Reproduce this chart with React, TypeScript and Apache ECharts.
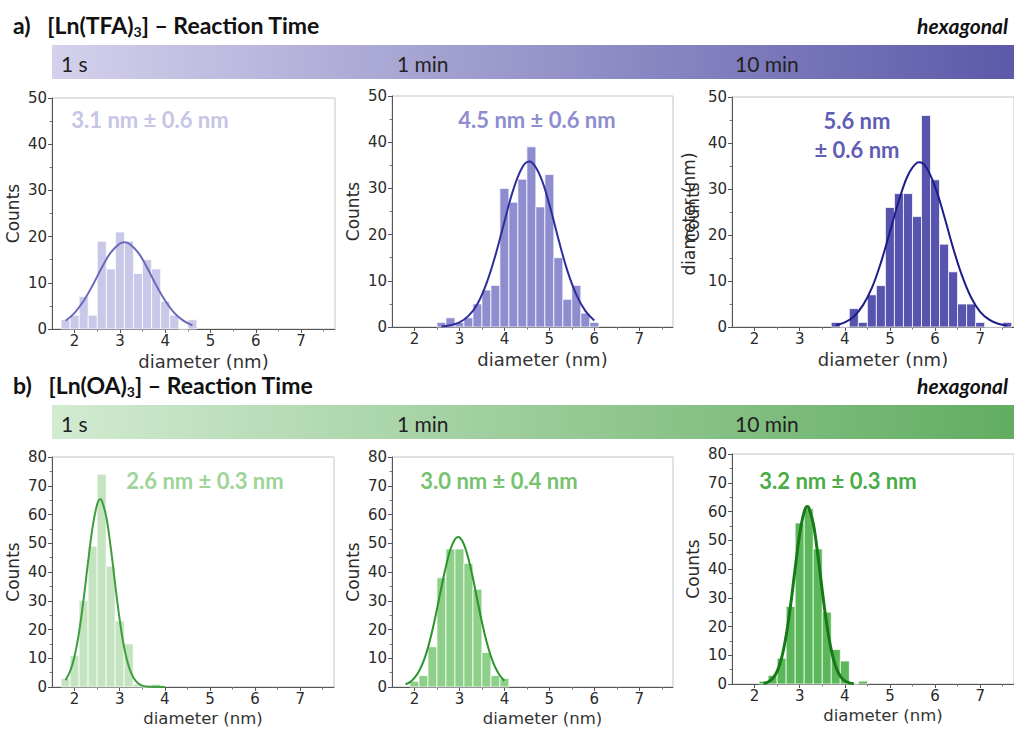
import React, { useEffect, useRef } from "react";
import * as echarts from "echarts";

// ---------- data ----------
const xTicks = [2, 3, 4, 5, 6, 7];
const xMinorTicks = [2.5, 3.5, 4.5, 5.5, 6.5, 7.5];
const binWidth = 0.2;

// a) [Ln(TFA)3]
const tfa1sCenters = [1.8, 2.0, 2.2, 2.4, 2.6, 2.8, 3.0, 3.2, 3.4, 3.6, 3.8, 4.0, 4.2, 4.4, 4.6];
const tfa1sCounts = [2, 3, 7, 3, 19, 13, 21, 19, 12, 15, 13, 6, 3, 0, 2];
const tfa1sFitX = [1.8, 2.0, 2.2, 2.4, 2.6, 2.8, 3.0, 3.1, 3.2, 3.4, 3.6, 3.8, 4.0, 4.2, 4.4, 4.6];
const tfa1sFitY = [1.8, 3.5, 6.1, 9.5, 13.3, 16.6, 18.5, 18.8, 18.5, 16.6, 13.3, 9.5, 6.1, 3.5, 1.8, 0.8];

const tfa1mCenters = [2.6, 2.8, 3.0, 3.2, 3.4, 3.6, 3.8, 4.0, 4.2, 4.4, 4.6, 4.8, 5.0, 5.2, 5.4, 5.6, 5.8, 6.0];
const tfa1mCounts = [1, 2, 1, 2, 5, 8, 9, 30, 27, 32, 39, 26, 33, 15, 6, 9, 3, 1];
const tfa1mFitX = [2.6, 2.8, 3.0, 3.2, 3.4, 3.6, 3.8, 4.0, 4.2, 4.4, 4.55, 4.6, 4.8, 5.0, 5.2, 5.4, 5.6, 5.8, 6.0];
const tfa1mFitY = [0.1, 0.4, 1.0, 2.4, 5.0, 9.4, 15.5, 22.8, 29.8, 34.6, 35.8, 35.7, 32.6, 26.5, 19.1, 12.2, 7.0, 3.5, 1.4];

const tfa10mCenters = [3.8, 4.0, 4.2, 4.4, 4.6, 4.8, 5.0, 5.2, 5.4, 5.6, 5.8, 6.0, 6.2, 6.4, 6.6, 6.8, 7.0, 7.2, 7.4, 7.6];
const tfa10mCounts = [1, 0, 4, 1, 7, 9, 26, 29, 29, 24, 46, 32, 18, 12, 5, 5, 1, 0, 0, 1];
const tfa10mFitX = [3.8, 4.0, 4.2, 4.4, 4.6, 4.8, 5.0, 5.2, 5.4, 5.6, 5.65, 5.8, 6.0, 6.2, 6.4, 6.6, 6.8, 7.0, 7.2, 7.4, 7.6];
const tfa10mFitY = [0.4, 1.0, 2.3, 4.7, 8.5, 14.0, 20.7, 27.5, 33.0, 35.7, 35.8, 34.8, 30.5, 24.2, 17.2, 11.1, 6.4, 3.3, 1.6, 0.7, 0.3];

// b) [Ln(OA)3]
const oa1sCenters = [1.8, 2.0, 2.2, 2.4, 2.6, 2.8, 3.0, 3.2, 3.4, 3.6, 3.8];
const oa1sCounts = [3, 11, 30, 49, 74, 42, 23, 15, 1, 0, 1];
const oa1sFitX = [1.8, 1.9, 2.0, 2.1, 2.2, 2.3, 2.4, 2.5, 2.57, 2.6, 2.7, 2.8, 2.9, 3.0, 3.1, 3.2, 3.3, 3.4, 3.5, 3.6, 3.8, 4.0];
const oa1sFitY = [2.4, 5.4, 10.7, 19.1, 30.5, 43.6, 55.6, 63.5, 65.3, 65.0, 59.4, 48.7, 35.7, 23.4, 13.7, 7.2, 3.4, 1.4, 0.5, 0.2, 0.05, 0];

const oa1mCenters = [2.0, 2.2, 2.4, 2.6, 2.8, 3.0, 3.2, 3.4, 3.6, 3.8, 4.0];
const oa1mCounts = [2, 4, 14, 38, 48, 48, 43, 34, 12, 4, 3];
const oa1mFitX = [1.8, 1.9, 2.0, 2.1, 2.2, 2.3, 2.4, 2.5, 2.6, 2.7, 2.8, 2.9, 2.97, 3.0, 3.1, 3.2, 3.3, 3.4, 3.5, 3.6, 3.7, 3.8, 3.9, 4.0];
const oa1mFitY = [0.9, 1.7, 3.2, 5.5, 8.9, 13.7, 19.8, 27.1, 34.7, 42.0, 47.9, 51.4, 52.2, 52.1, 49.6, 44.6, 37.8, 30.1, 22.6, 16.0, 10.7, 6.7, 4.0, 2.2];

const oa10mCenters = [2.2, 2.4, 2.6, 2.8, 3.0, 3.2, 3.4, 3.6, 3.8, 4.0, 4.2, 4.4];
const oa10mCounts = [1, 3, 9, 27, 56, 61, 47, 25, 12, 8, 0, 1];
const oa10mFitX = [2.2, 2.3, 2.4, 2.5, 2.6, 2.7, 2.8, 2.9, 3.0, 3.1, 3.17, 3.2, 3.3, 3.4, 3.5, 3.6, 3.7, 3.8, 3.9, 4.0, 4.1, 4.2];
const oa10mFitY = [0.2, 0.7, 1.9, 4.4, 9.1, 16.8, 27.6, 40.2, 52.1, 59.9, 61.7, 61.4, 55.9, 45.2, 32.5, 20.8, 11.8, 6.0, 2.7, 1.1, 0.4, 0.1];

const timeLabels = ["1 s", "1 min", "10 min"];

// ---------- panels (layout + styles) ----------
const AXIS_FONT = "DejaVu Sans";
const NOTE_FONT = "Lato";

type Panel = {
  grid: { left: number; top: number; width: number; height: number };
  yMax: number;
  centers: number[];
  counts: number[];
  fitX: number[];
  fitY: number[];
  barColor: string;
  lineColor: string;
  lineWidth: number;
  nameSize: number;
};

const panels: Panel[] = [
  { grid: { left: 52, top: 98, width: 283, height: 231 }, yMax: 50, centers: tfa1sCenters, counts: tfa1sCounts, fitX: tfa1sFitX, fitY: tfa1sFitY, barColor: "#c9c8e8", lineColor: "#6a69ba", lineWidth: 2, nameSize: 18 },
  { grid: { left: 392, top: 96, width: 281, height: 231 }, yMax: 50, centers: tfa1mCenters, counts: tfa1mCounts, fitX: tfa1mFitX, fitY: tfa1mFitY, barColor: "#8e8dd0", lineColor: "#2e2d99", lineWidth: 2, nameSize: 18 },
  { grid: { left: 732, top: 97, width: 286, height: 230 }, yMax: 50, centers: tfa10mCenters, counts: tfa10mCounts, fitX: tfa10mFitX, fitY: tfa10mFitY, barColor: "#5654ae", lineColor: "#1d1c88", lineWidth: 2, nameSize: 18 },
  { grid: { left: 52, top: 457, width: 282, height: 230 }, yMax: 80, centers: oa1sCenters, counts: oa1sCounts, fitX: oa1sFitX, fitY: oa1sFitY, barColor: "#c4e4c0", lineColor: "#3c9e3c", lineWidth: 2, nameSize: 16.5 },
  { grid: { left: 392, top: 457, width: 281, height: 230 }, yMax: 80, centers: oa1mCenters, counts: oa1mCounts, fitX: oa1mFitX, fitY: oa1mFitY, barColor: "#8ecf89", lineColor: "#2b952b", lineWidth: 2, nameSize: 16.5 },
  { grid: { left: 732, top: 454, width: 286, height: 230 }, yMax: 80, centers: oa10mCenters, counts: oa10mCounts, fitX: oa10mFitX, fitY: oa10mFitY, barColor: "#5cb65a", lineColor: "#177a17", lineWidth: 3, nameSize: 16.5 },
];

const notes = [
  { text: "3.1 nm ± 0.6 nm", x: 150, y: 119, color: "#c6c5e6" },
  { text: "4.5 nm ± 0.6 nm", x: 537, y: 119, color: "#8e8dcf" },
  { text: "5.6 nm", x: 857, y: 120, color: "#5f5db5" },
  { text: "± 0.6 nm", x: 857, y: 149, color: "#5f5db5" },
  { text: "2.6 nm ± 0.3 nm", x: 205, y: 480, color: "#9dd498" },
  { text: "3.0 nm ± 0.4 nm", x: 499, y: 480, color: "#76c26f" },
  { text: "3.2 nm ± 0.3 nm", x: 838, y: 480, color: "#4aac47" },
];

function buildOption() {
  const grids: any[] = [];
  const xAxes: any[] = [];
  const yAxes: any[] = [];
  const series: any[] = [];

  panels.forEach((p, i) => {
    grids.push({ ...p.grid, show: true, borderColor: "#c4c4c4", borderWidth: 1, backgroundColor: "transparent" });
    xAxes.push({
      type: "value",
      gridIndex: i,
      min: 1.5,
      max: 7.75,
      name: "diameter (nm)",
      nameLocation: "middle",
      nameGap: 23,
      nameTextStyle: { fontFamily: AXIS_FONT, fontSize: p.nameSize, color: "#333", verticalAlign: "top", padding: [0, 0, 0, 20] },
      axisLine: { show: true, onZero: false, lineStyle: { color: "#555", width: 1 } },
      axisTick: { show: true, length: 4, customValues: xTicks, lineStyle: { color: "#555" } },
      axisLabel: { customValues: xTicks, fontFamily: AXIS_FONT, fontSize: 15, color: "#2a2a2a", margin: 4 },
      splitLine: { show: false },
    });
    yAxes.push({
      type: "value",
      gridIndex: i,
      min: 0,
      max: p.yMax,
      interval: 10,
      name: "Counts",
      nameLocation: "middle",
      nameGap: 31,
      nameTextStyle: { fontFamily: AXIS_FONT, fontSize: 17, color: "#2a2a2a" },
      axisLine: { show: true, onZero: false, lineStyle: { color: "#555", width: 1 } },
      axisTick: { show: true, length: 4, lineStyle: { color: "#555" } },
      minorTick: { show: true, splitNumber: 2, length: 2.5, lineStyle: { color: "#777" } },
      axisLabel: { fontFamily: AXIS_FONT, fontSize: 15, color: "#2a2a2a", margin: 5 },
      splitLine: { show: false },
    });
    series.push({
      type: "custom",
      xAxisIndex: i,
      yAxisIndex: i,
      data: p.centers.map((c, k) => [c, p.counts[k]]),
      encode: { x: 0, y: 1 },
      renderItem: (params: any, api: any) => {
        const x = api.value(0);
        const y = api.value(1);
        const a = api.coord([x - binWidth / 2, y]);
        const b = api.coord([x + binWidth / 2, 0]);
        return {
          type: "rect",
          shape: { x: a[0], y: a[1], width: b[0] - a[0], height: b[1] - a[1] },
          style: { fill: p.barColor, stroke: "rgba(255,255,255,0.75)", lineWidth: 1 },
        };
      },
      z: 2,
    });
    series.push({
      type: "line",
      xAxisIndex: i,
      yAxisIndex: i,
      data: p.fitX.map((x, k) => [x, p.fitY[k]]),
      smooth: 0.4,
      showSymbol: false,
      symbol: "none",
      lineStyle: { color: p.lineColor, width: p.lineWidth },
      z: 3,
    });
  });

  // minor x ticks (second axis per grid)
  panels.forEach((p, i) => {
    xAxes.push({
      type: "value",
      gridIndex: i,
      position: "bottom",
      min: 1.5,
      max: 7.75,
      axisLine: { show: false },
      axisTick: { show: true, length: 2.5, customValues: xMinorTicks, lineStyle: { color: "#777" } },
      axisLabel: { show: false, customValues: xMinorTicks },
      splitLine: { show: false },
    });
  });

  const headerText = (label: string, chem: string) => ({
    text: `${label}   [Ln(${chem}){s|3}] – Reaction Time`,
    fontFamily: NOTE_FONT,
    fontSize: 23,
    fontWeight: "bold",
    lineHeight: 27,
    fill: "#111",
    rich: {
      s: { fontFamily: NOTE_FONT, fontSize: 14, fontWeight: "bold", verticalAlign: "bottom", lineHeight: 12, fill: "#111", color: "#111" },
    },
  });

  const graphic: any[] = [
    {
      type: "rect",
      shape: { x: 52, y: 45, width: 962, height: 34 },
      style: {
        fill: new echarts.graphic.LinearGradient(0, 0, 1, 0, [
          { offset: 0, color: "#d3d1eb" },
          { offset: 1, color: "#5c5aa9" },
        ]),
      },
      z: 0,
    },
    {
      type: "rect",
      shape: { x: 52, y: 405, width: 962, height: 34 },
      style: {
        fill: new echarts.graphic.LinearGradient(0, 0, 1, 0, [
          { offset: 0, color: "#d2ebd1" },
          { offset: 1, color: "#62ad61" },
        ]),
      },
      z: 0,
    },
    { type: "text", x: 13, y: 25, style: { ...headerText("a)", "TFA"), verticalAlign: "middle", textVerticalAlign: "middle" }, z: 5 },
    { type: "text", x: 13, y: 385, style: { ...headerText("b)", "OA"), verticalAlign: "middle", textVerticalAlign: "middle" }, z: 5 },
    {
      type: "text", x: 1008, y: 25,
      style: { text: "hexagonal", fontFamily: NOTE_FONT, fontSize: 21, fontWeight: "bold", fontStyle: "italic", fill: "#111", align: "right", textAlign: "right", verticalAlign: "middle", textVerticalAlign: "middle" },
      z: 5,
    },
    {
      type: "text", x: 1008, y: 385,
      style: { text: "hexagonal", fontFamily: NOTE_FONT, fontSize: 21, fontWeight: "bold", fontStyle: "italic", fill: "#111", align: "right", textAlign: "right", verticalAlign: "middle", textVerticalAlign: "middle" },
      z: 5,
    },
    {
      type: "text", x: 689, y: 214, rotation: Math.PI / 2,
      style: { text: "diameter (nm)", fontFamily: AXIS_FONT, fontSize: 17, fill: "#2a2a2a", align: "center", textAlign: "center", verticalAlign: "middle", textVerticalAlign: "middle" },
      z: 5,
    },
  ];

  const timeX = [61, 397, 735];
  [63, 423].forEach((ty) => {
    timeLabels.forEach((t, k) => {
      graphic.push({
        type: "text", x: timeX[k], y: ty,
        style: { text: t, fontFamily: NOTE_FONT, fontSize: 21, fill: "#222", align: "left", textAlign: "left", verticalAlign: "middle", textVerticalAlign: "middle" },
        z: 5,
      });
    });
  });

  notes.forEach((n) => {
    graphic.push({
      type: "text", x: n.x, y: n.y,
      style: { text: n.text, fontFamily: NOTE_FONT, fontSize: 22, fontWeight: "bold", fill: n.color, align: "center", textAlign: "center", verticalAlign: "middle", textVerticalAlign: "middle" },
      z: 10,
    });
  });

  return {
    animation: false,
    backgroundColor: "#ffffff",
    grid: grids,
    xAxis: xAxes,
    yAxis: yAxes,
    series,
    graphic,
  };
}

export default function App() {
  const ref = useRef<HTMLDivElement>(null);
  useEffect(() => {
    if (!ref.current) return;
    const chart = echarts.init(ref.current, undefined, { renderer: "svg" });
    chart.setOption(buildOption() as any);
    return () => chart.dispose();
  }, []);
  return (
    <div
      ref={ref}
      style={{ position: "fixed", left: 0, top: 0, width: 1014, height: 730, background: "#fff" }}
    />
  );
}
